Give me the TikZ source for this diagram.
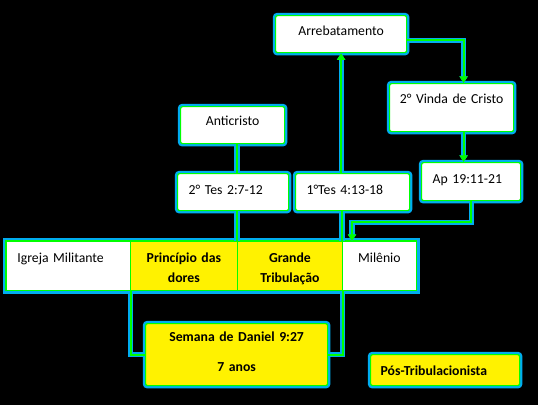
\documentclass[tikz,border=0pt]{standalone}
\usepackage{fontspec}
\setmainfont{Carlito}
\usetikzlibrary{arrows.meta}
\usetikzlibrary{backgrounds}

\begin{document}
\begin{tikzpicture}[x=0.75pt, y=-0.75pt,
  every node/.style={font=\fontsize{10.3}{15}\selectfont, text=black},
  box/.style={draw=green, line width=0.9pt, fill=white, rounded corners=1.5pt,
    inner ysep=0pt, inner xsep=0pt, anchor=north west, align=center,
    preaction={draw=cyan, line width=4.2pt}},
  cell/.style={draw=green, line width=0.6pt, inner ysep=0pt, inner xsep=0pt,
    anchor=north west, align=center, text height=15.75pt, text depth=21pt},
  yel/.style={fill=yellow, font=\fontsize{10.3}{15}\selectfont\bfseries},
  link/.style={draw=green, line width=1.5pt, preaction={draw=cyan, line width=3.9pt}},
  tip/.style={-{Triangle[length=5pt, width=6pt]}}]

  \useasboundingbox (0,0) rectangle (538,405);

  % top boxes
  \node [box, text width=98.25pt, text height=15pt, text depth=12.75pt] (arreb) at (275,15) {Arrebatamento};
  \node [box, text width=93pt, text height=15pt, text depth=21pt] (vinda) at (389,83) {2° Vinda de Cristo};
  \node [box, text width=78pt, text height=14.25pt, text depth=13.5pt] (anti) at (180,106) {Anticristo};

  % references
  \node [box, inner xsep=8.25pt, text width=66.75pt, align=left, text height=15.75pt, text depth=12pt] (tes2) at (177,173) {2° Tes 2:7-12};
  \node [box, inner xsep=8.25pt, text width=69pt, align=left, text height=15.75pt, text depth=12pt] (tes1) at (295,173) {1°Tes 4:13-18};
  \node [box, inner xsep=8.25pt, text width=57.75pt, align=left, text height=15.75pt, text depth=12.75pt] (ap) at (421,162) {Ap 19:11-21};

  % time line
  \node [cell, fill=white, inner xsep=8.25pt, text width=76.5pt, align=left] (igreja) at (6,241) {Igreja Militante};
  \node [cell, yel, text width=80.25pt] (dores) at (130,241) {Princípio das\\dores};
  \node [cell, yel, text width=78.75pt] (trib) at (237,241) {Grande\\Tribulação};
  \node [cell, fill=white, text width=55.5pt] (milenio) at (342,241) {Milênio};

  \begin{scope}[on background layer]
    \fill [black] (0,0) rectangle (538,405);
    \draw [cyan, line width=4.2pt] (igreja.north west) rectangle (milenio.south east);
  \end{scope}
  \draw [green, line width=0.9pt] (igreja.north west) rectangle (milenio.south east);

  % bottom boxes
  \node [box, yel, text width=136.5pt, text height=13.5pt, text depth=33pt] (semana) at (145,323) {Semana de Daniel 9:27\\[7.5pt]7 anos};
  \node [box, yel, inner xsep=7.5pt, text width=96.75pt, align=left, text height=15.75pt, text depth=7.5pt] (pos) at (370,354) {Pós-Tribulacionista};

  % connectors
  \draw [link] (anti.south -| trib.north west) -- (tes2.north -| trib.north west);
  \draw [link] (tes2.south -| trib.north west) -- (trib.north west);
  \draw [link, tip] (tes1.north -| arreb.south) -- (arreb.south);
  \draw [link] (tes1.south -| milenio.north west) -- (milenio.north west);
  \draw [link, tip] ([yshift=-4.5pt]arreb.east) -| ([xshift=9pt]vinda.north);
  \draw [link, tip] ([xshift=9pt]vinda.south) -- ([xshift=9pt]vinda.south |- ap.north);
  \draw [link, tip] (ap.south) -- ++(0,21) -| ([xshift=7.5pt]milenio.north west);
  \draw [link] (igreja.south east) |- (semana.west);
  \draw [link] (trib.south east) |- (semana.east);
\end{tikzpicture}
\end{document}
